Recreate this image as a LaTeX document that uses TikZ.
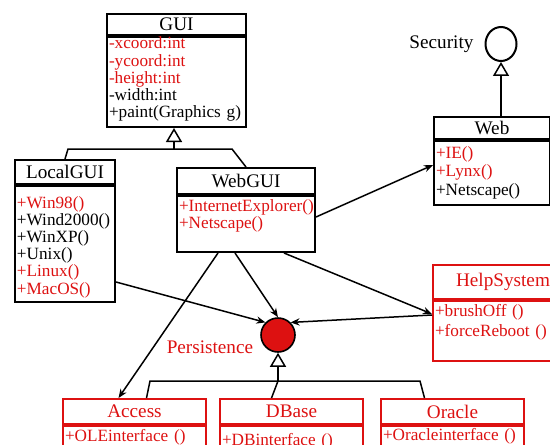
\documentclass[tikz,border=0pt]{standalone}
\usepackage{fontspec}
\setmainfont{Liberation Serif}
\usepackage{tikz}
\usetikzlibrary{arrows.meta,shapes.geometric}
\usetikzlibrary{positioning}
\definecolor{umlred}{RGB}{221,17,17}
\tikzset{
    classhead/.style={
           rectangle,
           draw=black, line width=1pt,
           inner sep=0pt,
           text centered,
           font=\fontsize{9.6}{10}\selectfont,
           },
    members/.style={
           rectangle,
           draw=black, line width=1pt,
           inner xsep=1pt, inner ysep=0.5pt,
           align=left,
           font=\fontsize{8.6}{8.6}\selectfont,
           },
    redclass/.style={draw=umlred, text=umlred},
    uses/.style={-{Stealth[length=4.5pt,width=3.6pt]}, line width=0.75pt},
    inherit/.style={-{Triangle[open,length=7pt,width=8pt]}, line width=0.75pt},
    joinline/.style={line width=0.75pt},
}
\newcommand{\rd}[1]{\textcolor{umlred}{#1}}

\begin{document}
\begin{tikzpicture}[x=0.5pt,y=-0.5pt]

 \useasboundingbox (0,0) rectangle (550,444);
 \clip (0,0) rectangle (550,444);

 % GUI: head node, member list hangs below it
 \node[classhead, minimum width=69.5pt, minimum height=10.5pt,
 anchor=north west] (guihead) at (106,13) {GUI};
 \node[members, below=0pt of guihead, text width=67.5pt,
 text height=5.5pt, text depth=38.5pt] (guibody)
 {\rd{-xcoord:int}\\ \rd{-ycoord:int}\\ \rd{-height:int}\\ -width:int\\ +paint(Graphics g)};

 % LocalGUI
 \node[classhead, minimum width=50pt, minimum height=12pt,
 anchor=north west] (localhead) at (14,159) {LocalGUI};
 \node[members, below=0pt of localhead, text width=48pt,
 text height=10.5pt, text depth=46.5pt] (localbody)
 {\rd{+Win98()}\\ +Wind2000()\\ +WinXP()\\ +Unix()\\ \rd{+Linux()}\\ \rd{+MacOS()}};

 % WebGUI
 \node[classhead, minimum width=69pt, minimum height=13pt,
 anchor=north west] (webguihead) at (176,167) {WebGUI};
 \node[members, below=0pt of webguihead, text width=67pt,
 text height=7pt, text depth=20pt] (webguibody)
 {\rd{+InternetExplorer()}\\ \rd{+Netscape()}};

 % Web (right border at the picture's edge)
 \node[classhead, minimum width=58pt, minimum height=11pt,
 anchor=north west] (webhead) at (433,116) {Web};
 \node[members, below=0pt of webhead, text width=56pt,
 font=\fontsize{8.6}{9.25}\selectfont,
 text height=8pt, text depth=23pt] (webbody)
 {\rd{+IE()}\\ \rd{+Lynx()}\\ +Netscape()};

 % interface Security
 \node[ellipse, draw=black, line width=1pt, inner sep=0pt,
 minimum width=15.5pt, minimum height=17pt] (security) at (501,44) {};
 \node[left=2pt of security, font=\fontsize{9.6}{10}\selectfont] (seclabel) {Security};

 % HelpSystem (runs off the right edge)
 \node[classhead, redclass, minimum width=70pt, minimum height=17pt,
 anchor=north west] (helphead) at (432,264) {HelpSystem};
 \node[members, redclass, below=0pt of helphead, text width=68pt,
 font=\fontsize{8.6}{10}\selectfont,
 text height=7pt, text depth=22pt] (helpbody)
 {+brushOff ()\\ +forceReboot ()};

 % interface Persistence
 \node[circle, draw=black, line width=0.8pt, fill=umlred, inner sep=0pt,
 minimum size=17pt] (persist) at (278,335) {};
 \node[left=0pt of persist, yshift=-6pt, text=umlred,
 font=\fontsize{9.6}{10}\selectfont] (perslabel) {Persistence};

 % the three storage classes along the bottom
 \node[classhead, redclass, minimum width=71.5pt, minimum height=12.5pt,
 anchor=north west] (accesshead) at (62,398) {Access};
 \node[members, redclass, below=0pt of accesshead, text width=69.5pt,
 text height=7pt, text depth=20pt] (accessbody) {+OLEinterface ()};

 \node[classhead, redclass, minimum width=71.5pt, minimum height=12.5pt,
 right=6pt of accesshead] (dbasehead) {DBase};
 \node[members, redclass, below=0pt of dbasehead, text width=69.5pt,
 text height=9pt, text depth=20pt] (dbasebody) {+DBinterface ()};

 \node[classhead, redclass, minimum width=71.5pt, minimum height=12.5pt,
 right=8pt of dbasehead] (oraclehead) {Oracle};
 \node[members, redclass, below=0pt of oraclehead, text width=69.5pt,
 text height=6.5pt, text depth=20pt] (oraclebody) {+Oracleinterface ()};

 % generalization GUI <- LocalGUI, WebGUI
 \coordinate (guijoin) at (174,149);
 \coordinate (guileft) at (68,149);
 \coordinate (guiright) at (232,149);
 \draw[inherit] (guijoin) -- (guibody.south -| guijoin);
 \draw[joinline] (localhead.north) -- (guileft) -- (guiright) -- (webguihead.north);

 % Web realizes Security
 \draw[inherit] (webhead.north -| security) -- (security);

 % dependencies
 \draw[uses] ([yshift=3.5pt]webguibody.east) -- ([yshift=4pt]webbody.west);
 \draw[uses] ([xshift=19pt]webguibody.south) -- ([yshift=8.5pt]helpbody.west);
 \draw[uses] ([yshift=8pt]helpbody.west) -- (persist.north east);
 \draw[uses] ([yshift=10.5pt]localbody.south east) -- (persist.north west);
 \draw[uses] ([xshift=-5.5pt]webguibody.south) -- (persist.north);
 \draw[uses] ([xshift=-14pt]webguibody.south) -- ([xshift=-8pt]accesshead.north);

 % generalization Persistence <- Access, DBase, Oracle
 \coordinate (persjoin) at (278,381);
 \coordinate (persleft) at (150,381);
 \coordinate (persright) at (420,381);
 \draw[inherit] (persjoin) -- (persist);
 \draw[joinline] ([xshift=6pt]accesshead.north) -- (persleft) -- (persright)
 -- ([xshift=-14pt]oraclehead.north);
 \draw[joinline] (persjoin) -- ([xshift=-10pt]dbasehead.north);

\end{tikzpicture}
\end{document}
